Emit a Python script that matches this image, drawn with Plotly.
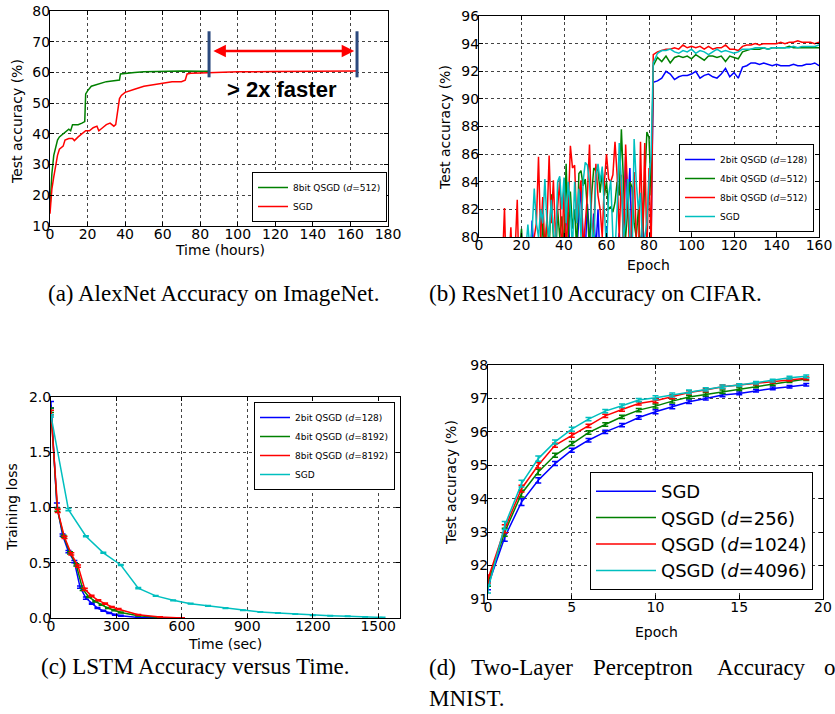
import plotly.graph_objects as go

# ---------------- data ----------------
# (a) AlexNet on ImageNet
a_qsgd_t = [0,1,2,3,4,5,6,8,10,11,12,13,15,17,18.5,19,20,22,25,28,30,33,35,37,37.5,40,45,50,55,60,70,80,85]
a_qsgd_acc = [16,27,33,36,38,39,39.5,40.5,41.5,41,43,43,43,43.5,44,53,54,55.5,56,56.5,57,57.2,57.3,57.5,59.5,59.7,60,60.2,60.3,60.4,60.5,60.4,60.4]
a_sgd_t = [0,1,2,3,4,5,7,8,10,12,13,15,17,19,21,23,25,26,28,30,32,34,35,36,37,38,40,45,50,55,60,65,70,72,73,75,80,90,100,120,140,163]
a_sgd_acc = [14,22,26,30,33,35,36,38,38.5,38.5,37.8,39,40,41,41,42,42.5,41,42,43,43.5,42.5,43,47,51.5,52.5,53.5,54.5,55.5,56,56.5,57,57,57.5,59.5,59.7,59.8,60,60.2,60.3,60.4,60.5]

# (b) ResNet110 on CIFAR
b_post_ep = list(range(82, 161, 2))
b_2bit_ep = [0,15,24,25,26,35,40,41,42,43,46,47,48,49,50,51,52,53,54,55,56,57,59,60,61,65,66,67,68,69,70,71,72,73,76,77,78,80,81] + b_post_ep
b_2bit_acc = [50,70,78,81.2,78,77,79,81.0,81.8,78,79,81.0,83.6,80,79,82.4,80,79,81.7,79,82.0,78,78,80.8,78,79,80.3,78,80,85.8,82,85.0,79,78,79,81.0,79,78,80,
              91.2,91.3,91.5,92.0,91.8,91.4,91.6,91.7,91.7,91.8,92.0,91.5,91.7,91.8,91.6,91.5,91.8,92.2,91.6,91.9,91.5,92.3,92.4,92.6,92.6,92.5,92.6,92.5,92.4,92.5,92.4,92.4,92.4,92.5,92.4,92.4,92.5,92.5,92.6,92.4]
b_4bit_ep = [0,10,15,19,20,21,25] + list(range(28, 82)) + b_post_ep
b_4bit_acc = [58,72,76,79,80.6,78,77,
              79,78,81,79,81.5,79,83.1,80,78,82,
              80,81.5,79,85.3,80,83.3,80.6,82,79,84.6,
              84.8,83.7,84.2,82,79,83,85.0,84.8,84.9,83.2,
              84.8,83,84,82,82.2,81.8,82.5,84,83,87.8,
              84,80,82,84,83.6,81,80,82,79,80,
              84,87.6,87.2,83,
              92.4,93.0,92.7,93.1,92.6,93.0,93.1,93.0,93.1,92.9,93.2,93.0,92.8,93.1,93.1,93.0,93.1,92.7,93.1,93.0,92.9,93.4,93.5,93.6,93.6,93.6,93.7,93.6,93.7,93.7,93.7,93.7,93.8,93.7,93.7,93.7,93.7,93.7,93.7,93.7]
b_8bit_ep = [0,5,10,11,12,13,14,15,16,17,18,19,21,23,25] + list(range(27, 82)) + b_post_ep
b_8bit_acc = [60,70,75,78,82.1,76,78,80.7,77,79,82.7,76,79,78,79,
              81,85.8,80,82.9,79,81,85.9,81,84.1,80,
              82,84.2,78,84.0,79,82,86.6,85,85.2,81,
              83,84.1,79,81,83,86.7,81,80,85.3,83,
              82,80,84,86.0,84.2,84,84.5,86.9,84.5,80,
              84.5,79,86.7,83,78,82,84.7,80,78,86.9,
              80,86.8,79,85,79,
              93.2,93.4,93.5,93.6,93.6,93.7,93.6,93.9,93.7,93.8,93.7,93.8,93.6,93.8,93.6,93.7,93.7,93.9,93.6,93.6,93.5,93.8,93.9,93.9,94.0,93.9,94.0,94.0,94.0,94.0,94.1,94.0,94.1,94.1,94.2,94.1,94.1,94.1,94.0,94.1]
b_sgd_ep = [0,10,20,22,23,24,25] + list(range(26, 82)) + b_post_ep
b_sgd_acc = [55,70,77,79,80.9,79,80.5,
             83.5,81,80,82,81,84.2,81,80,82.7,80.5,
             79,84.0,84.4,82,84.3,81,84,82,79,84.0,
             81,83.5,80,84.0,85.4,85.2,84,81,79,84.5,
             85.3,84.0,85.1,82,79,83,84.1,80,79,82,
             86.8,84,80,81,84.2,80,78,87.1,84,82,
             83.2,79,80,81,84.1,86,
             92.6,93.3,93.5,93.5,93.6,93.4,93.3,93.5,93.4,93.6,93.3,93.5,93.4,93.2,93.4,93.6,93.4,93.5,93.4,93.3,93.4,93.6,93.6,93.6,93.7,93.7,93.7,93.6,93.7,93.7,93.7,93.7,93.7,93.8,93.7,93.8,93.8,93.8,93.8,93.9]

# (c) LSTM training loss
c_2bit_t = [0,27,53,80,107,133,160,187,213,240,267,293,320,400,600]
c_2bit_loss = [1.93,1.02,0.75,0.60,0.51,0.28,0.18,0.13,0.09,0.065,0.045,0.03,0.02,0.005,0.0]
c_2bit_err = [0.03,0.02,0.01,0.01,0.01,0.01,0.01,0.005,0.005,0.005,0.005,0.005,0.005,0.002,0.002]
c_4bit_t = [0,29,58,87,116,145,174,203,232,261,290,320,400,500]
c_4bit_loss = [1.88,0.98,0.74,0.59,0.48,0.26,0.19,0.15,0.12,0.09,0.07,0.05,0.02,0.005]
c_4bit_err = [0.02,0.015,0.01,0.01,0.01,0.01,0.005,0.005,0.005,0.005,0.005,0.005,0.002,0.002]
c_8bit_t = [0,31,62,93,124,155,186,217,248,279,310,400,500,600]
c_8bit_loss = [1.86,0.97,0.73,0.58,0.47,0.26,0.20,0.16,0.13,0.10,0.08,0.03,0.01,0.0]
c_8bit_err = [0.02,0.015,0.01,0.01,0.01,0.01,0.005,0.005,0.005,0.005,0.005,0.002,0.002,0.002]
c_sgd_t = [0,80,160,240,320,400,480,560,640,720,800,880,960,1040,1120,1200,1280,1360,1440,1520]
c_sgd_loss = [1.83,0.98,0.74,0.59,0.48,0.27,0.20,0.16,0.13,0.11,0.09,0.07,0.055,0.045,0.035,0.025,0.02,0.015,0.01,0.005]
c_sgd_err = [0.01,0.01,0.005,0.005,0.005,0.005,0.003,0.003,0.003,0.003,0.003,0.003,0.002,0.002,0.002,0.002,0.002,0.002,0.002,0.002]

# (d) Two-layer perceptron on MNIST
d_epoch = list(range(20))
d_sgd = [91.4,92.85,93.9,94.55,95.05,95.45,95.75,96.0,96.2,96.43,96.6,96.75,96.9,97.0,97.1,97.15,97.23,97.3,97.35,97.41]
d_q256 = [91.5,93.0,94.15,94.8,95.3,95.65,95.98,96.22,96.45,96.65,96.77,96.92,97.04,97.12,97.2,97.28,97.36,97.43,97.52,97.58]
d_q1024 = [91.6,93.1,94.3,95.0,95.6,95.9,96.18,96.48,96.67,96.85,96.93,97.05,97.18,97.25,97.35,97.4,97.45,97.5,97.56,97.6]
d_q4096 = [91.3,93.2,94.45,95.2,95.7,96.08,96.38,96.62,96.78,96.95,97.02,97.1,97.2,97.27,97.35,97.4,97.47,97.53,97.62,97.66]
d_err = [0.12,0.12,0.1,0.08,0.06,0.06,0.05,0.05,0.05,0.05,0.06,0.06,0.05,0.05,0.05,0.04,0.04,0.04,0.04,0.04]

# annotation positions in panel (a) (data units)
a_bar_left, a_bar_right = 84.7, 163.5
a_bar_lo, a_bar_hi = 58.4, 73.4
a_arrow_y = 67.0

BLUE, GREEN, RED, CYAN = "#0000ff", "#008000", "#ff0000", "#00bfbf"
SANS = "DejaVu Sans"
SERIF = "Liberation Serif"
W, H = 835, 714

fig = go.Figure()

def line(x, y, color, name, xa, ya, legend, err=None):
    tr = dict(x=x, y=y, mode="lines", name=name, line=dict(color=color, width=1.5),
              xaxis=xa, yaxis=ya, legend=legend)
    if err is not None:
        tr["error_y"] = dict(type="data", array=err, color=color, thickness=1.5, width=3)
    fig.add_trace(go.Scatter(**tr))

D = "<i>d</i>"
# (a)
line(a_qsgd_t, a_qsgd_acc, GREEN, f"8bit QSGD ({D}=512)", "x", "y", "legend")
line(a_sgd_t, a_sgd_acc, RED, "SGD", "x", "y", "legend")
# (b)
line(b_2bit_ep, b_2bit_acc, BLUE, f"2bit QSGD ({D}=128)", "x2", "y2", "legend2")
line(b_4bit_ep, b_4bit_acc, GREEN, f"4bit QSGD ({D}=512)", "x2", "y2", "legend2")
line(b_8bit_ep, b_8bit_acc, RED, f"8bit QSGD ({D}=512)", "x2", "y2", "legend2")
line(b_sgd_ep, b_sgd_acc, CYAN, "SGD", "x2", "y2", "legend2")
# (c)
line(c_2bit_t, c_2bit_loss, BLUE, f"2bit QSGD ({D}=128)", "x3", "y3", "legend3", c_2bit_err)
line(c_4bit_t, c_4bit_loss, GREEN, f"4bit QSGD ({D}=8192)", "x3", "y3", "legend3", c_4bit_err)
line(c_8bit_t, c_8bit_loss, RED, f"8bit QSGD ({D}=8192)", "x3", "y3", "legend3", c_8bit_err)
line(c_sgd_t, c_sgd_loss, CYAN, "SGD", "x3", "y3", "legend3", c_sgd_err)
# (d)
line(d_epoch, d_sgd, BLUE, "SGD", "x4", "y4", "legend4", d_err)
line(d_epoch, d_q256, GREEN, f"QSGD ({D}=256)", "x4", "y4", "legend4", d_err)
line(d_epoch, d_q1024, RED, f"QSGD ({D}=1024)", "x4", "y4", "legend4", d_err)
line(d_epoch, d_q4096, CYAN, f"QSGD ({D}=4096)", "x4", "y4", "legend4", d_err)

def px_dom_x(a, b):
    return [a / W, b / W]

def px_dom_y(top, bottom):
    return [1 - bottom / H, 1 - top / H]

def axis(domain, rng, dtick, anchor, standoff, fmt=None):
    d = dict(domain=domain, range=rng, dtick=dtick, tick0=rng[0], anchor=anchor,
             automargin=False,
             showline=True, linecolor="black", linewidth=1, mirror="ticks",
             ticks="inside", ticklen=4, tickcolor="black", ticklabelstandoff=standoff,
             showgrid=True, gridcolor="#444444", griddash="dot", gridwidth=1,
             zeroline=False, tickfont=dict(family=SANS, size=14, color="black"))
    if fmt:
        d["tickformat"] = fmt
    return d

XS, YS = -5, -4
fig.update_layout(
    width=W, height=H, margin=dict(l=0, r=0, t=0, b=0),
    paper_bgcolor="white", plot_bgcolor="white",
    xaxis=axis(px_dom_x(50, 388), [0, 180], 20, "y", XS),
    yaxis=axis(px_dom_y(11, 226), [10, 80], 10, "x", YS),
    xaxis2=axis(px_dom_x(479, 819), [0, 160], 20, "y2", XS),
    yaxis2=axis(px_dom_y(16, 237), [80, 96], 2, "x2", YS),
    xaxis3=axis(px_dom_x(51, 400), [0, 1600], 300, "y3", XS),
    yaxis3=axis(px_dom_y(397, 618), [0, 2.0], 0.5, "x3", YS, ".1f"),
    xaxis4=axis(px_dom_x(488, 823), [0, 20], 5, "y4", XS),
    yaxis4=axis(px_dom_y(365, 599), [91, 98], 1, "x4", YS),
    showlegend=True,
)

def legend(xr, yp, size, anchor="top", iw=30):
    return dict(x=xr / W, y=1 - yp / H, xanchor="right", yanchor=anchor,
                bgcolor="white", bordercolor="black", borderwidth=1, itemwidth=iw,
                font=dict(family=SANS, size=size, color="black"), tracegroupgap=0)

fig.update_layout(legend=legend(387, 222, 9, "bottom"), legend2=legend(814, 232, 9, "bottom"),
                  legend3=legend(395, 402, 9), legend4=legend(813, 472, 18, "top", 60))

# axis titles
def atitle(text, x, y, angle=0):
    fig.add_annotation(x=x / W, y=1 - y / H, xref="paper", yref="paper", text=text, showarrow=False,
                       textangle=angle, xanchor="center", yanchor="middle",
                       font=dict(family=SANS, size=14, color="black"))

atitle("Time (hours)", 220, 250)
atitle("Test accuracy (%)", 17, 122, -90)
atitle("Epoch", 648, 265)
atitle("Test accuracy (%)", 445, 128, -90)
atitle("Time (sec)", 225, 644)
atitle("Training loss", 12, 507, -90)
atitle("Epoch", 656, 632)
atitle("Test accuracy (%)", 451, 482, -90)

# panel (a) decorations
for xv in (a_bar_left, a_bar_right):
    fig.add_shape(type="line", xref="x", yref="y", x0=xv, x1=xv, y0=a_bar_lo, y1=a_bar_hi,
                  line=dict(color="#2c4a7e", width=3))
fig.add_annotation(x=a_bar_right - 1.5, y=a_arrow_y, ax=a_bar_left + 1.5, ay=a_arrow_y,
                   xref="x", yref="y", axref="x", ayref="y", text="", showarrow=True,
                   arrowhead=2, arrowside="end+start", arrowwidth=2.5, arrowsize=1, arrowcolor="#ff0000")
fig.add_annotation(x=282 / W, y=1 - 89 / H, xref="paper", yref="paper", text="<b>&gt; 2x faster</b>",
                   showarrow=False, xanchor="center", yanchor="middle",
                   font=dict(family="Liberation Sans", size=22, color="black"))

# captions
def cap(text, x, y):
    fig.add_annotation(x=x / W, y=1 - y / H, xref="paper", yref="paper", text=text, showarrow=False,
                       xanchor="left", yanchor="middle", font=dict(family=SERIF, size=23, color="black"))

cap("(a) AlexNet Accuracy on ImageNet.", 46, 293)
cap("(b) ResNet110 Accuracy on CIFAR.", 427, 293)
cap("(c) LSTM Accuracy versus Time.", 39, 666)
for word, xw in [("(d)", 427), ("Two-Layer", 469), ("Perceptron", 591), ("Accuracy", 715), ("on", 822)]:
    cap(word, xw, 667)
cap("MNIST.", 427, 698)

fig.write_html("out.html", config={"displayModeBar": False},
               post_script="document.body.style.margin='0px';")
